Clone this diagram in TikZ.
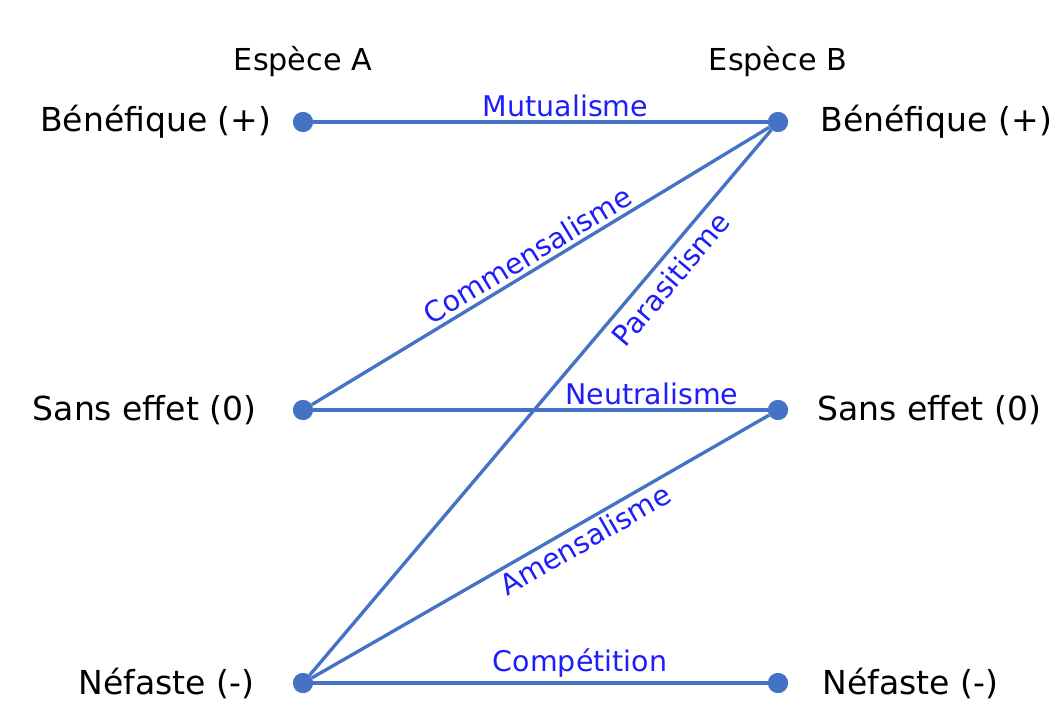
\documentclass[tikz,border=0pt]{standalone}
\usepackage{fontspec}
\setmainfont{DejaVu Sans}
\usetikzlibrary{positioning}
\definecolor{linkblue}{RGB}{68,114,196}
\definecolor{namecolor}{RGB}{30,30,250}

\begin{document}
\begin{tikzpicture}[x=0.02cm, y=-0.02cm,
    dot/.style={circle, fill=linkblue, inner sep=0pt, minimum size=0.4cm},
    link/.style={draw=linkblue, line width=1.9pt},
    side/.style={inner sep=0pt, font=\fontsize{18.8}{22}\selectfont},
    title/.style={inner sep=0pt, font=\fontsize{17.2}{21}\selectfont},
    rel/.style={text=namecolor, inner sep=2pt, font=\fontsize{16.2}{19}\selectfont, sloped}]

    % Fix the frame of the picture
    \fill[white] (0,0) rectangle (1051,713);
    \useasboundingbox (0,0) rectangle (1051,713);

    % Dots for species A (left) and species B (right)
    \node[dot] (aP) at (303,122) {};
    \node[dot] (aZ) at (303,410) {};
    \node[dot] (aM) at (303,683) {};
    \node[dot] (bP) at (778,122) {};
    \node[dot] (bZ) at (778,410) {};
    \node[dot] (bM) at (778,683) {};

    % Column titles
    \node[title, above=0.7cm of aP] (tA) {Espèce A};
    \node[title, above=0.7cm of bP] (tB) {Espèce B};

    % Effect labels on both sides
    \node[side, left=0.42cm of aP] (lAP) {Bénéfique (+)};
    \node[side, left=0.72cm of aZ] (lAZ) {Sans effet (0)};
    \node[side, left=0.76cm of aM] (lAM) {Néfaste (-)};
    \node[side, right=0.64cm of bP] (lBP) {Bénéfique (+)};
    \node[side, right=0.58cm of bZ] (lBZ) {Sans effet (0)};
    \node[side, right=0.68cm of bM] (lBM) {Néfaste (-)};

    % Interactions between the two species
    \draw[link] (aP) -- node[rel, above, pos=0.555] (nMut) {Mutualisme} (bP);
    \draw[link] (aZ) -- node[rel, above, pos=0.49] (nCom) {Commensalisme} (bP);
    \draw[link] (aM) -- node[rel, below, pos=0.75, inner sep=4pt] (nPar) {Parasitisme} (bP);
    \draw[link] (aZ) -- node[rel, above, pos=0.745] (nNeu) {Neutralisme} (bZ);
    \draw[link] (aM) -- node[rel, below, pos=0.58] (nAme) {Amensalisme} (bZ);
    \draw[link] (aM) -- node[rel, above, pos=0.587] (nCmp) {Compétition} (bM);

    % Redraw the dots on top of the lines
    \foreach \d in {aP,aZ,aM,bP,bZ,bM}
        \fill[linkblue] (\d) circle (0.2cm);

\end{tikzpicture}
\end{document}
